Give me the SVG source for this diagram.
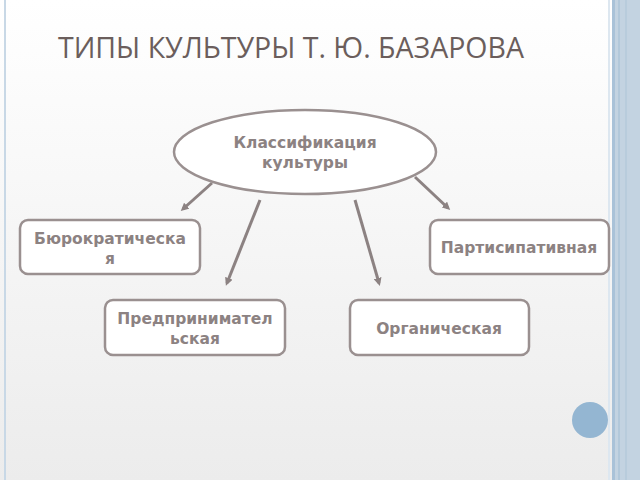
<svg xmlns="http://www.w3.org/2000/svg" width="640" height="480" viewBox="0 0 640 480">
<defs>
<linearGradient id="bg" x1="0" y1="0" x2="0" y2="1"><stop offset="0" stop-color="#ffffff"/><stop offset="1" stop-color="#ececec"/></linearGradient>
<marker id="ah" markerWidth="8" markerHeight="8" refX="5" refY="4" orient="auto" markerUnits="userSpaceOnUse"><path d="M0,0 L8,4 L0,8 z" fill="#8c8282"/></marker>
</defs>
<style>
.n{fill:#fff;stroke:#9a9090;stroke-width:2.5}
.t{font-family:"DejaVu Sans",sans-serif;font-weight:bold;font-size:15.5px;fill:#8c8282;text-anchor:middle}
.c{stroke:#8c8282;stroke-width:3;fill:none;marker-end:url(#ah)}
</style>
<rect width="640" height="480" fill="url(#bg)"/>
<rect x="4" y="0" width="2" height="480" fill="#c8d8e6"/>
<rect x="612" y="0" width="28" height="480" fill="#c3d3e1"/>
<rect x="612" y="0" width="3" height="480" fill="#a9c2d8"/>
<rect x="618" y="0" width="2" height="480" fill="#b2c8da"/>
<rect x="625" y="0" width="2" height="480" fill="#b8ccdc"/>
<rect x="608" y="0" width="2" height="480" fill="#dde7f0"/>
<circle cx="590" cy="420" r="18" fill="#94b6d2"/>
<text x="58" y="58" font-family="'Open Sans','DejaVu Sans',sans-serif" font-size="28.5" fill="#6b5e5c">ТИПЫ КУЛЬТУРЫ Т. Ю. БАЗАРОВА</text>
<g id="connectors">
<line class="c" x1="212" y1="183" x2="183" y2="209"/>
<line class="c" x1="260" y1="200" x2="227" y2="283"/>
<line class="c" x1="355" y1="200" x2="379" y2="283"/>
<line class="c" x1="415" y1="177" x2="448" y2="208"/>
</g>
<g id="root"><ellipse class="n" cx="305" cy="152" rx="131" ry="42"/><text class="t" x="305" y="148">Классификация</text><text class="t" x="305" y="168">культуры</text></g>
<g id="bur"><rect class="n" x="20" y="220" width="180" height="54" rx="8"/><text class="t" x="110" y="244">Бюрократическа</text><text class="t" x="110" y="264">я</text></g>
<g id="part"><rect class="n" x="430" y="220" width="179" height="54" rx="8"/><text class="t" x="519" y="253">Партисипативная</text></g>
<g id="pred"><rect class="n" x="105" y="300" width="180" height="55" rx="8"/><text class="t" x="195" y="324">Предпринимател</text><text class="t" x="195" y="344">ьская</text></g>
<g id="org"><rect class="n" x="350" y="300" width="179" height="55" rx="8"/><text class="t" x="439" y="334">Органическая</text></g>
</svg>
